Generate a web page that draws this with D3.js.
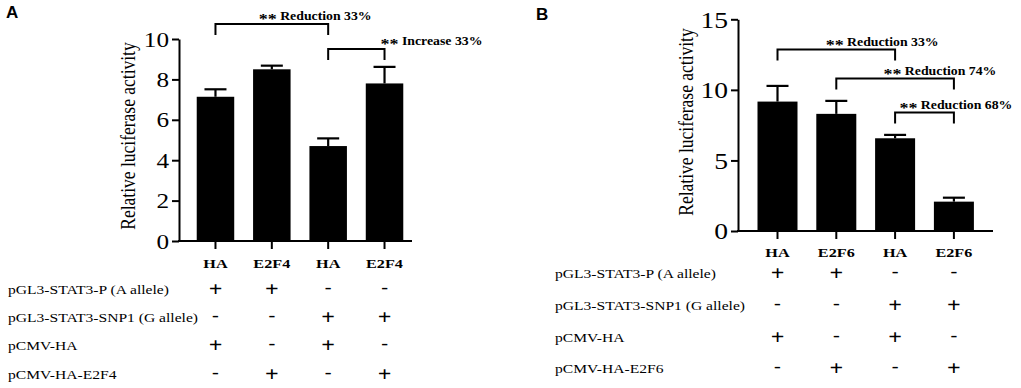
<!DOCTYPE html>
<html>
<head>
<meta charset="utf-8">
<script src="https://cdn.jsdelivr.net/npm/d3@7"></script>
<style>
  body { margin: 0; background: #fff; }
  svg { display: block; }
  text { font-family: "Liberation Serif", "Times New Roman", serif; fill: #000; }
</style>
</head>
<body>
<div id="chart"></div>
<script>
// ---- data ----
const groupsA = ["HA", "E2F4", "HA", "E2F4"];
const meansA = [7.14, 8.5, 4.7, 7.8];
const errorsA = [0.37, 0.18, 0.38, 0.82];
const yTicksA = [0, 2, 4, 6, 8, 10];
const conditionsA = ["pGL3-STAT3-P (A allele)", "pGL3-STAT3-SNP1 (G allele)", "pCMV-HA", "pCMV-HA-E2F4"];
const signsA = [
  ["+", "+", "-", "-"],
  ["-", "-", "+", "+"],
  ["+", "-", "+", "-"],
  ["-", "+", "-", "+"],
];
const comparisonsA = [
  { from: 0, to: 2, label: "Reduction 33%" },
  { from: 2, to: 3, label: "Increase 33%" },
];

const groupsB = ["HA", "E2F6", "HA", "E2F6"];
const meansB = [9.17, 8.3, 6.57, 2.08];
const errorsB = [1.11, 0.92, 0.24, 0.28];
const yTicksB = [0, 5, 10, 15];
const conditionsB = ["pGL3-STAT3-P (A allele)", "pGL3-STAT3-SNP1 (G allele)", "pCMV-HA", "pCMV-HA-E2F6"];
const signsB = [
  ["+", "+", "-", "-"],
  ["-", "-", "+", "+"],
  ["+", "-", "+", "-"],
  ["-", "+", "-", "+"],
];
const comparisonsB = [
  { from: 0, to: 2, label: "Reduction 33%" },
  { from: 1, to: 3, label: "Reduction 74%" },
  { from: 2, to: 3, label: "Reduction 68%" },
];

const width = 1021;
const height = 388;
const stretch = 1.2; // the source figure is a little wider than tall

const svg = d3.select("#chart")
  .append("svg")
  .attr("width", width)
  .attr("height", height)
  .attr("viewBox", `0 0 ${width} ${height}`);

function wideText(parent, x, y, str, anchor = "start") {
  return parent.append("text")
    .attr("transform", `translate(${x},${y}) scale(${stretch},1)`)
    .attr("text-anchor", anchor)
    .text(str);
}

function drawPanel({
  letter, letterPos, groups, means, errors, yTicks, yDomain,
  conditions, signs, comparisons,
  axisX, yTop, yBottom, xRight, xRange, barWidth,
  tickFont, titleX, titleY, catY, rowLabelX, rowYs, bracketLayout,
}) {
  const g = svg.append("g");

  g.append("text")
    .attr("x", letterPos[0])
    .attr("y", letterPos[1])
    .style("font-family", "'Liberation Sans', Arial, sans-serif")
    .style("font-weight", "bold")
    .style("font-size", "17px")
    .text(letter);

  const x = d3.scalePoint().domain(d3.range(groups.length)).range(xRange).padding(0.5);
  const y = d3.scaleLinear().domain(yDomain).range([yBottom, yTop]);

  // bars
  g.append("g")
    .selectAll("rect")
    .data(means)
    .join("rect")
    .attr("x", (d, i) => x(i) - barWidth / 2)
    .attr("y", (d) => y(d))
    .attr("width", barWidth)
    .attr("height", (d) => y(0) - y(d))
    .attr("fill", "#000");

  // error bars (upper only)
  const err = g.append("g").attr("stroke", "#000").attr("stroke-width", 2.2);
  means.forEach((m, i) => {
    err.append("line")
      .attr("x1", x(i)).attr("x2", x(i))
      .attr("y1", y(m)).attr("y2", y(m + errors[i]));
    err.append("line")
      .attr("x1", x(i) - 11).attr("x2", x(i) + 11)
      .attr("y1", y(m + errors[i])).attr("y2", y(m + errors[i]));
  });

  // y axis
  const yAxis = d3.axisLeft(y).tickValues(yTicks).tickSize(7).tickPadding(4).tickSizeOuter(0);
  const ya = g.append("g").attr("transform", `translate(${axisX},0)`).call(yAxis);
  ya.select(".domain").attr("stroke-width", 2);
  ya.selectAll(".tick line").attr("stroke-width", 2);
  ya.selectAll(".tick text")
    .attr("x", null)
    .attr("dy", "0.34em")
    .attr("transform", `translate(-10,0) scale(${stretch},1)`)
    .style("font-family", "'Liberation Serif', 'Times New Roman', serif")
    .style("font-size", tickFont + "px");

  // x axis line with ticks under bars
  g.append("line")
    .attr("x1", axisX - 1).attr("x2", xRight)
    .attr("y1", y(0)).attr("y2", y(0))
    .attr("stroke", "#000").attr("stroke-width", 2);
  groups.forEach((name, i) => {
    g.append("line")
      .attr("x1", x(i)).attr("x2", x(i))
      .attr("y1", y(0)).attr("y2", y(0) + 8)
      .attr("stroke", "#000").attr("stroke-width", 2);
    wideText(g, x(i), catY, name, "middle")
      .style("font-weight", "bold")
      .style("font-size", "13.5px");
  });

  // y title
  g.append("text")
    .attr("transform", `translate(${titleX},${titleY}) rotate(-90) scale(1,${stretch})`)
    .attr("text-anchor", "middle")
    .style("font-size", "17.5px")
    .text("Relative luciferase activity");

  // significance brackets
  comparisons.forEach((c, k) => {
    const lay = bracketLayout[k];
    const x1 = x(c.from);
    const x2 = x(c.to);
    const yt = y(lay.top);
    const yb = y(lay.top) + 11;
    g.append("path")
      .attr("d", `M${x1},${yb}V${yt}H${x2}V${yb}`)
      .attr("fill", "none")
      .attr("stroke", "#000")
      .attr("stroke-width", 2);
    const t = wideText(g, x2 + lay.dx, yt - 4, "", "middle")
      .style("font-weight", "bold")
      .style("font-size", "11.5px");
    t.append("tspan").attr("dy", 4).style("font-size", "15px").text("**");
    t.append("tspan").attr("dy", -4).text(" " + c.label);
  });

  // condition table
  conditions.forEach((label, r) => {
    wideText(g, rowLabelX, rowYs[r], label).style("font-size", "13px");
    signs[r].forEach((s, i) => {
      if (s === "+") {
        wideText(g, x(i), rowYs[r] + 2, s, "middle")
          .style("font-size", "20px")
          .style("font-weight", "bold");
      } else {
        wideText(g, x(i), rowYs[r] - 1, s, "middle")
          .style("font-size", "17px")
          .style("font-weight", "bold");
      }
    });
  });
}

drawPanel({
  letter: "A",
  letterPos: [6, 18],
  groups: groupsA,
  means: meansA,
  errors: errorsA,
  yTicks: yTicksA,
  yDomain: [0, 10],
  conditions: conditionsA,
  signs: signsA,
  comparisons: comparisonsA,
  axisX: 179,
  yTop: 39,
  yBottom: 241,
  xRight: 412,
  xRange: [187.3, 412.7],
  barWidth: 37.5,
  tickFont: 21,
  titleX: 135,
  titleY: 136,
  catY: 268,
  rowLabelX: 8,
  rowYs: [294, 322, 350, 379],
  bracketLayout: [
    { top: 10.74, dx: -13 },
    { top: 9.5, dx: 47 },
  ],
});

drawPanel({
  letter: "B",
  letterPos: [536, 20],
  groups: groupsB,
  means: meansB,
  errors: errorsB,
  yTicks: yTicksB,
  yDomain: [0, 15],
  conditions: conditionsB,
  signs: signsB,
  comparisons: comparisonsB,
  axisX: 738,
  yTop: 19.3,
  yBottom: 231,
  xRight: 993,
  xRange: [748.1, 983.3],
  barWidth: 40,
  tickFont: 23,
  titleX: 693,
  titleY: 122,
  catY: 257,
  rowLabelX: 555,
  rowYs: [278, 310, 342, 373],
  bracketLayout: [
    { top: 12.86, dx: -13 },
    { top: 10.8, dx: -14 },
    { top: 8.39, dx: 2 },
  ],
});
</script>
</body>
</html>
